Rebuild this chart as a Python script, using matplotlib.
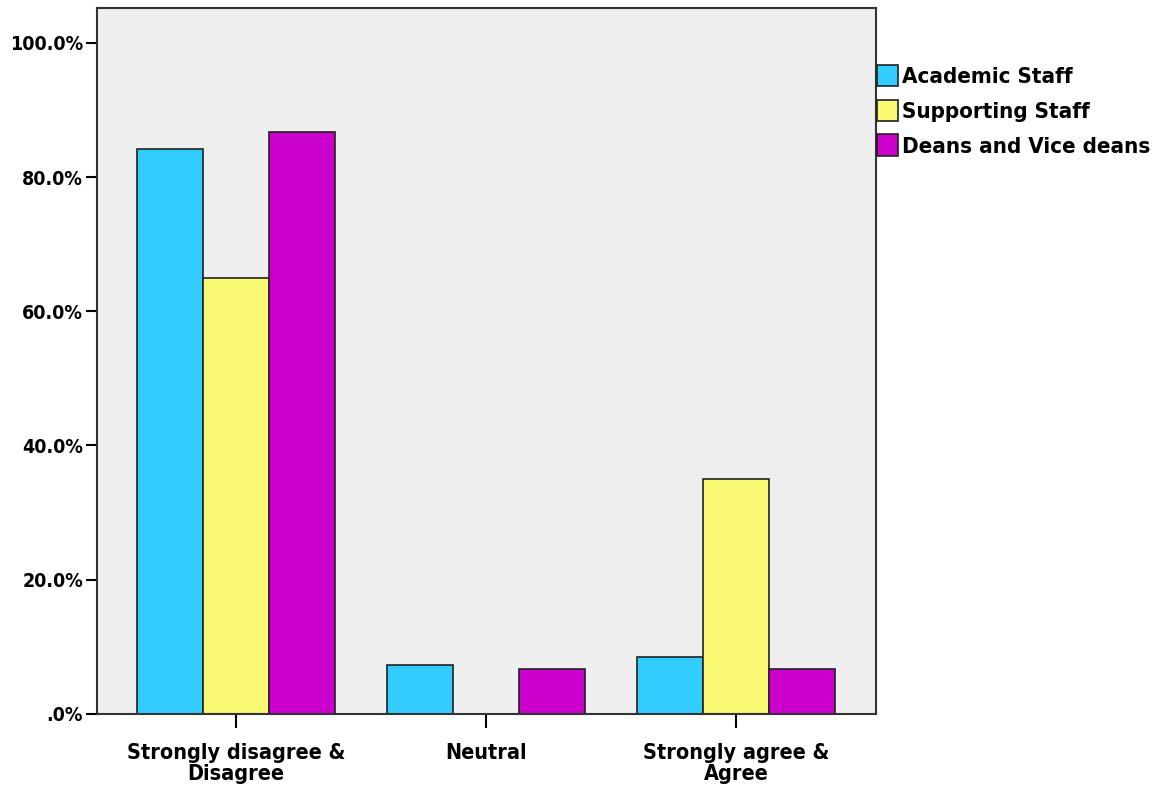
import matplotlib.pyplot as plt
import numpy as np
from matplotlib.ticker import FuncFormatter

# data
categories = ['Strongly disagree &\nDisagree', 'Neutral', 'Strongly agree &\nAgree']
groups = ['Academic Staff', 'Supporting Staff', 'Deans and Vice deans']
academic = [84.2, 7.3, 8.5]
supporting = [65.0, 0.0, 35.0]
deans = [86.7, 6.7, 6.7]
yticks = [0, 20, 40, 60, 80, 100]

colors = ['#33ccff', '#f9f873', '#cc00cc']
plt.rcParams['font.family'] = ['DejaVu Sans']
plt.rcParams['font.stretch'] = 'condensed'

fig = plt.figure(figsize=(11.68, 7.88), dpi=100)
ax = fig.add_axes([0.083, 0.094, 0.667, 0.896])
ax.set_facecolor('#efefef')

x = np.arange(len(categories))
w = 0.264
for i, (vals, name) in enumerate(zip([academic, supporting, deans], groups)):
    ax.bar(x + (i - 1) * w, vals, w, color=colors[i], edgecolor='#222222',
           linewidth=1.2, label=name)

ax.set_xlim(-0.556, 2.56)
ax.set_ylim(0, 105.2)
ax.set_xticks(x)
ax.set_xticklabels(categories, fontsize=15.5, fontweight='bold', linespacing=1.05)
ax.set_yticks(yticks)
ax.yaxis.set_major_formatter(FuncFormatter(lambda v, p: '.0%' if v == 0 else f'{v:.1f}%'))
for lbl in ax.get_yticklabels():
    lbl.set_fontsize(14)
    lbl.set_fontweight('bold')
ax.tick_params(axis='y', length=8, width=1.5, pad=2)
ax.tick_params(axis='x', length=10, width=1.5, pad=11)
for s in ax.spines.values():
    s.set_linewidth(1.5)
    s.set_color('#333333')

leg = ax.legend(loc='upper left', bbox_to_anchor=(1.001, 0.919), frameon=False,
                prop={'weight': 'bold', 'size': 16},
                handlelength=0.95, handleheight=1.1, handletextpad=0.2,
                labelspacing=0.56, borderaxespad=0.0, borderpad=0.0)
for h in leg.legend_handles:
    h.set_edgecolor('#222222')
    h.set_linewidth(1.2)

fig.savefig('out.png', dpi=100)
